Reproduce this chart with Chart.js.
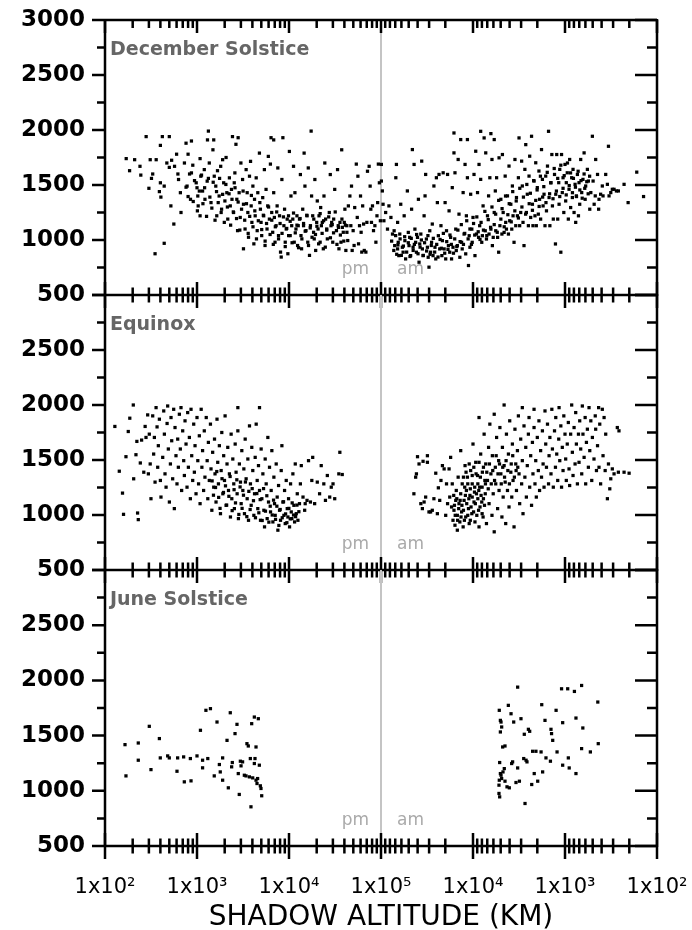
<!DOCTYPE html>
<html>
<head>
<meta charset="utf-8">
<script src="https://cdn.jsdelivr.net/npm/chart.js@4.4.1/dist/chart.umd.min.js"></script>
<style>
  html, body { margin: 0; padding: 0; background: #fff; }
  #wrap { position: relative; width: 692px; height: 930px; }
  #wrap canvas { position: absolute; left: 0; top: 0; }
</style>
</head>
<body>
<div id="wrap">
  <canvas id="p1" width="692" height="930"></canvas>
  <canvas id="p2" width="692" height="930"></canvas>
  <canvas id="p3" width="692" height="930"></canvas>
</div>
<script>
// shadow altitude (km) vs value, pm side (left half) and am side (right half)
const xTickLabels = ['1x10\u00b2', '1x10\u00b3', '1x10\u2074', '1x10\u2075', '1x10\u2074', '1x10\u00b3', '1x10\u00b2'];
const panelTitles = ['December Solstice', 'Equinox', 'June Solstice'];
const yMajor = [500, 1000, 1500, 2000, 2500, 3000];
const yMinor = [750, 1250, 1750, 2250, 2750];

const decPm = [
  [170,1740],[185,1630],[210,1730],[240,1670],[245,1590],[280,1940],[310,1730],[360,1730],[320,1560],[300,1470],
  [330,1600],[350,875],[440,970],[400,1860],[420,1940],[500,1940],[400,1520],[405,1390],[390,1440],[440,1490],
  [470,1700],[500,1660],[520,1310],[560,1145],[530,1725],[600,1780],[570,1670],[620,1600],[630,1550],[660,1430],
  [670,1250],[730,1700],[760,1880],[800,1780],[870,1900],[780,1490],[830,1600],[850,1370],[900,1680],[940,1540],
  [1000,1475],[1020,1400],[1030,1310],[1080,1740],[1080,1220],[1100,1580],[1150,1445],[1200,1640],[1220,1370],[1290,1535],
  [1300,1910],[1330,1990],[1360,1700],[1420,1340],[1490,1820],[1520,1910],[1540,1580],[1600,1490],[1640,1220],[1670,1630],
  [1740,1400],[1810,1670],[1850,1280],[1900,1730],[1950,1520],[2010,1355],[2070,1750],[2110,1430],[2160,1190],[2250,1565],
  [2300,1310],[2370,1460],[2430,1940],[2500,1250],[2540,1520],[2580,1610],[2650,1870],[2710,1370],[2760,1085],[2800,1930],
  [2870,1430],[2950,1205],[3000,1700],[3130,1550],[3200,1325],[3200,920],[3330,1100],[3420,1640],[3510,1430],[3570,1250],
  [3630,1025],[3720,1580],[3820,1715],[3880,1310],[3950,1160],[4050,1490],[4150,965],[4220,1370],[4290,1220],[4400,1565],
  [4510,1085],[4580,1430],[4770,1790],[4890,1280],[4970,1160],[5050,1040],[5180,1385],[5310,1220],[5400,1640],[5490,950],
  [5630,1460],[5770,1100],[5870,1310],[5960,1760],[6120,1190],[6280,1690],[6380,1930],[6490,1250],[6650,1070],[6820,1910],
  [6820,1430],[6930,1205],[7050,980],[7240,1130],[7430,1310],[7560,1655],[7690,1040],[7890,1220],[8090,890],[8230,845],
  [8370,1550],[8580,1930],[8800,1130],[8950,1280],[9100,980],[9330,1100],[9560,1190],[9720,875],[9880,1220],[10100,1805],
  [10300,1040],[10500,1400],[10700,1130],[11000,1190],[11200,1670],[11400,980],[11600,1430],[11900,1100],[12200,1220],[12400,950],
  [12600,1130],[13000,1190],[13300,1595],[13500,1040],[13700,920],[14100,1280],[14400,1130],[14600,1790],[14900,1490],[15300,1085],
  [15700,1220],[16000,980],[16200,1655],[16700,860],[17100,1130],[17400,1990],[17600,1400],[18100,1220],[18500,1070],[18800,1010],
  [19100,1550],[19500,905],[20000,1160],[20300,1355],[20700,1100],[21200,1220],[21800,980],[22100,1295],[22500,1130],[23000,1160],
  [23600,920],[24000,1400],[24500,1700],[25000,1190],[25700,1100],[26100,1010],[27400,1250],[28100,1595],[28600,1130],[29100,1160],
  [29900,980],[30600,1190],[31400,1460],[32800,1085],[33700,1640],[34300,1130],[34900,920],[35800,1160],[36700,980],[37400,1820],
  [38000,1115],[38900,1070],[39900,1160],[40500,1280],[41500,905],[42500,1130],[43500,995],[44200,1310],[45900,1400],[47000,1130],
  [47800,1490],[48600,905],[49800,1085],[51000,950],[51800,1295],[53900,1690],[55200,1205],[56100,1580],[57000,965],[58400,1130],
  [59900,1400],[60800,1070],[61800,890],[63200,1310],[64700,1145],[65800,905],[68500,890],[70200,1160],[71300,1625],[74300,1670],
  [76200,1490],[77500,1280],[78800,1160],[80800,1310],[82900,1085],[85800,1130],[88000,980],[90400,1220],[92000,1340],[93600,1690],
  [96000,1520],[98400,1175],
  [760,1480],[800,1395],[870,1610],[910,1350],[980,1520],[1010,1265],[1060,1445],[1120,1590],[1160,1330],[1210,1475],
  [1270,1215],[1330,1560],[1380,1390],[1450,1290],[1500,1525],[1570,1180],[1630,1440],[1700,1340],[1760,1560],[1830,1250],
  [1900,1415],[1980,1160],[2060,1505],[2140,1300],[2230,1420],[2320,1135],[2400,1370],[2480,1255],[2590,1475],[2690,1195],
  [2800,1345],[2920,1090],[3050,1280],[3170,1445],[3300,1180],[3450,1330],[3600,1060],[3740,1215],[3900,1405],[4060,1120],
  [4250,1265],[4430,1010],[4640,1175],[4820,1340],[5050,1095],[5260,1225],[5500,990],[5700,1150],[6000,1300],[6230,1050],
  [6500,1180],[6750,960],[7100,1120],[7350,1255],[7700,1010],[8000,1150],[8400,1060],[8700,1210],[9100,940],[9450,1105],
  [9900,1040],[10300,1170],[10800,975],[11200,1245],[11700,1065],[12200,1135],[12700,930],[13200,1195],[13800,1010],[14400,1150],
  [15000,1080],[15600,1225],[16300,950],[17000,1110],[17800,1025],[18600,1190],[19400,1050],[20100,1125],[21000,965],[21800,1240],
  [22900,1060],[23800,1175],[24800,935],[25700,1090],[27000,1210],[28200,1020],[29500,1140],[30500,1065],[31800,1255],[33200,960],
  [34500,1115],[36200,1045],[37600,1190],[39400,990],[41000,1135],[42600,1070]
];

const decAm = [
  [99000,1687],[99000,1536],[96700,1446],[95000,1325],[93000,1175],[89000,1250],[85000,1099],[82000,1310],[78000,1205],[75000,1054],
  [72000,1084],[69000,1566],[68000,1687],[66000,1160],[71000,949],[66000,919],[65000,979],[64000,858],[62500,1054],[61000,1325],
  [58600,934],[57500,889],[56000,1220],[55000,994],[54000,828],[51700,1446],[50500,1069],[49600,949],[48800,1024],[47600,858],
  [46500,1280],[45600,1822],[44800,934],[43700,1687],[42800,1099],[42000,979],[41200,889],[40100,1024],[39200,1370],[38600,798],
  [37900,964],[36900,1054],[36100,1717],[35500,919],[34900,858],[34000,1220],[33200,1401],[32700,1596],[32100,1009],[31300,934],
  [30700,843],[30100,753],[29500,1084],[28900,889],[28200,979],[27700,1145],[27200,858],[26600,1491],[25900,934],[25400,828],
  [25000,1566],[24400,1340],[23800,1039],[23400,1596],[23000,919],[22300,1130],[21800,858],[21500,994],[21100,1611],[20600,919],
  [20100,1340],[19800,828],[19400,1084],[18900,1596],[18500,949],[18200,1265],[17900,889],[17500,1024],[17100,828],[16800,1476],
  [16500,934],[16100,1973],[16100,1792],[15700,1611],[15400,1099],[15200,904],[14800,949],[14500,1732],[14200,1235],[13900,843],
  [13600,1913],[13300,979],[13100,919],[12800,1431],[12500,1054],[12200,1687],[12000,874],[11800,1220],[11500,1913],[11500,1566],
  [11200,768],[11000,1039],[10800,934],[10600,1416],[10300,1099],[10200,979],[10000,1205],[9750,1596],[9520,858],[9340,1807],
  [9170,1054],[8930,1431],[8700,1024],[8600,1687],[8460,1130],[8250,1988],[8250,1551],[8030,979],[7910,1039],[7770,1310],
  [7570,1928],[7360,1084],[7270,1792],[7140,1009],[6960,1220],[6770,1401],[6690,1054],[6560,1566],[6390,1967],[6390,1099],
  [6220,1732],[6160,949],[6030,1024],[5880,1913],[5880,1250],[5720,1446],[5660,1084],[5540,1566],[5400,1024],[5260,889],
  [5210,1747],[5100,1130],[4980,1370],[4850,1054],[4790,1777],[4700,1250],[4590,1069],[4470,1581],[4410,1160],[4330,1099],
  [4220,1401],[4120,1054],[4060,1672],[3990,1175],[3880,1325],[3790,1099],[3730,1491],[3670,1220],[3580,979],[3500,1732],
  [3430,1130],[3370,1386],[3290,1220],[3210,1566],[3160,1928],[3110,1130],[3030,1250],[2960,1717],[2910,1491],[2860,1160],
  [2790,949],[2730,1642],[2670,1867],[2630,1250],[2570,1416],[2500,1130],[2460,1581],[2420,1762],[2360,1205],[2310,1943],
  [2260,1325],[2230,1130],[2170,1536],[2120,1220],[2080,1702],[2050,1130],[2000,1476],[1950,1235],[1920,1627],[1890,1370],
  [1840,1190],[1800,1822],[1760,1551],[1730,1310],[1690,1416],[1650,1130],[1620,1581],[1590,1265],[1550,1672],[1510,1988],
  [1490,1386],[1460,1130],[1420,1521],[1390,1777],[1370,1310],[1340,1190],[1300,1596],[1270,964],[1260,1416],[1230,1777],
  [1200,1190],[1170,1521],[1160,1325],[1140,1642],[1110,889],[1090,1777],[1070,1431],[1050,1566],[1030,1250],[1000,1687],
  [983,1355],[968,1521],[945,1611],[920,1190],[904,1461],[890,1732],[868,1295],[846,1566],[832,1386],[818,1642],
  [797,1250],[777,1506],[765,1160],[752,1401],[733,1596],[714,1220],[704,1521],[692,1325],[675,1732],[658,1431],
  [638,1551],[620,1792],[604,1370],[596,1491],[571,1642],[557,1536],[538,1280],[524,1431],[504,1943],[495,1536],
  [482,1325],[469,1401],[464,1732],[443,1596],[431,1280],[427,1370],[410,1416],[393,1491],[386,1401],[361,1596],
  [346,1506],[337,1852],[332,1401],[318,1431],[306,1461],[293,1461],[276,1446],[263,1446],[228,1506],[206,1340],
  [166,1617],[140,1395],
  [76600,990],[72600,905],[69300,1040],[67500,870],[65500,955],[62000,1010],[60100,860],[57100,945],[55300,1030],[52600,890],
  [50500,975],[48400,850],[46900,1015],[44700,905],[43400,960],[41000,1050],[39600,875],[37600,935],[36400,1000],[34700,860],
  [33600,975],[31900,900],[30900,1040],[29300,870],[28400,950],[27000,1015],[26100,890],[24800,960],[24000,845],[22800,1005],
  [22100,925],[21000,1060],[20300,880],[19300,985],[18700,915],[17800,1045],[17200,960],[16300,880],[15800,1010],[15000,940],
  [14600,1090],[13800,985],[13400,1140],[12700,960],[12300,1060],[11700,1175],[11300,1010],[10800,1100],[10400,960],[9860,1150],
  [9580,1045],[9090,1210],[8780,1075],[8390,1005],[8170,1160],[7700,1090],[7430,1260],[7080,1040],[6830,1185],[6440,1115],
  [6220,1300],[5880,1140],[5670,1235],[5450,1070],[5260,1360],[4980,1190],[4830,1285],[4580,1120],[4430,1400],[4180,1230],
  [4040,1330],[3840,1165],[3700,1440],[3510,1265],[3390,1355],[3210,1200],[3100,1470],[2940,1300],[2830,1390],[2680,1235],
  [2600,1505],[2450,1330],[2380,1425],[2260,1270],[2190,1540],[2080,1360],[2010,1455],[1910,1305],[1850,1580],[1750,1390],
  [1700,1485],[1610,1340],[1560,1615],[1470,1420],[1430,1520],[1350,1375],[1310,1650],[1240,1445],[1200,1560],[1140,1395],
  [1110,1680],[1050,1470],[1020,1585],[970,1410],[940,1700],[900,1495],[870,1610],[830,1430],[810,1560],[770,1480],
  [750,1395],[720,1625],[690,1455],[670,1540],[650,1380],[620,1600],[610,1470],[580,1530],[560,1420],[540,1580]
];

const eqPm = [
  [128,1805],[143,1398],[155,1199],[159,1006],[169,1530],[179,1759],[186,1880],[203,2000],[205,1329],[217,1548],
  [222,1669],[226,1018],[230,958],[242,1473],[250,1681],[264,1389],[273,1805],[279,1705],[291,1910],[296,1374],
  [303,1735],[310,1464],[316,1148],[330,1901],[338,1554],[344,1705],[350,1299],[359,1976],[368,1801],[374,1434],
  [380,1630],[390,1871],[400,1314],[406,1163],[424,1524],[435,1946],[442,1735],[449,1374],[461,1253],[473,1832],
  [480,1991],[488,1600],[501,1118],[514,1464],[522,1886],[531,1675],[544,1329],[558,1961],[567,1058],[577,1795],
  [591,1539],[606,1283],[617,1690],[627,1434],[643,1916],[659,1600],[670,1976],[681,1223],[699,1765],[717,1494],
  [729,1359],[741,1856],[760,1645],[779,1253],[792,1931],[806,1434],[826,1705],[847,1148],[861,1961],[876,1539],
  [898,1314],[921,1826],[936,1389],[952,1630],[976,1193],[1000,1886],[1020,1494],[1040,1283],[1060,1720],[1080,1103],
  [1110,1961],[1130,1434],[1150,1585],[1180,1223],[1200,1765],[1220,1344],[1260,1886],[1290,1494],[1310,1148],[1330,1660],
  [1360,1314],[1400,1826],[1420,1419],[1450,1043],[1480,1570],[1520,1253],[1550,1690],[1570,1374],[1610,1118],[1650,1871],
  [1680,1479],[1710,1283],[1750,1630],[1800,1012],[1830,1404],[1860,1750],[1910,1193],[1950,1539],[1990,1314],[2020,1901],
  [2070,1088],[2120,1464],[2160,1615],[2200,1223],[2250,1374],[2310,982],[2350,1735],[2390,1148],[2450,1509],[2510,1283],
  [2550,1058],[2600,1645],[2660,1389],[2730,1193],[2780,1976],[2780,1765],[2820,967],[2890,1464],[2970,1299],[3020,1103],
  [3070,1585],[3150,1223],[3230,1419],[3280,1012],[3340,1690],[3420,1329],[3510,1148],[3570,1509],[3630,952],[3720,1810],
  [3810,1283],[3880,1088],[3940,1615],[4040,1404],[4150,997],[4220,1193],[4290,1524],[4400,1826],[4510,1314],[4580,1058],
  [4660,1449],[4780,1976],[4780,1223],[4900,952],[4980,1600],[5070,1148],[5200,1374],[5330,1043],[5420,892],[5510,1509],
  [5650,1283],[5790,967],[5890,1705],[5990,1118],[6140,1434],[6300,1028],[6400,1223],[6510,1585],[6680,937],[6850,1344],
  [6960,1103],[7080,997],[7260,1464],[7440,1163],[7570,862],[7700,1268],[7890,1043],[8090,952],[8230,1404],[8370,1630],
  [8580,1118],[8800,997],[8950,1223],[9100,922],[9330,1314],[9570,1058],[9730,982],[9890,1148],[10140,892],[10400,1283],
  [10580,1028],[10750,967],[11020,1374],[11300,1088],[11500,937],[11700,1464],[12000,1012],[12300,1193],[12500,952],[13000,1103],
  [13300,1283],[13600,1449],[14200,1163],[14800,1043],[15000,1103],[15700,1133],[16300,1494],[17100,1118],[17700,1314],[18100,1524],
  [19000,1103],[20300,1299],[21500,1193],[22400,1449],[23900,1283],[24900,1133],[26100,1359],[27700,1163],[28800,1253],[30100,1283],
  [31400,1148],[34800,1374],[35700,1570],[37900,1368],
  [1460,1310],[1510,1180],[1590,1250],[1640,1395],[1720,1160],[1780,1060],[1870,1330],[1940,1205],[2040,1265],[2100,1090],
  [2220,1170],[2290,1350],[2410,1040],[2530,1230],[2620,1110],[2710,1320],[2850,1005],[2940,1255],[3090,1060],[3200,1180],
  [3360,1300],[3480,985],[3660,1215],[3780,1050],[3980,1240],[4110,1130],[4320,975],[4470,1195],[4700,1020],[4860,1140],
  [5110,950],[5290,1240],[5550,1035],[5740,1175],[6040,935],[6250,1080],[6570,1000],[6790,1135],[7140,960],[7380,1080],
  [7760,905],[8020,1050],[8440,975],[8720,1120],[9180,1010],[9480,930],[9970,1060],[10310,965],[10830,1110],[11200,1000],
  [11800,985],[12200,1090],[12800,1030]
];

const eqAm = [
  [43900,1193],[42000,1344],[41200,1374],[40100,1530],[38600,1464],[36900,1103],[35500,1058],[34900,1488],[34000,1118],[32700,1163],
  [31300,1539],[31300,1479],[30100,1028],[28900,1028],[27700,1043],[26600,1148],[25400,1380],[24400,1012],[23800,1247],[23000,1133],
  [22300,1314],[21500,1449],[20600,1419],[19800,997],[19400,1283],[18900,1103],[18200,1419],[17900,1163],[17500,1524],[17100,1073],
  [16800,1283],[16500,952],[16100,1043],[15700,907],[15400,1133],[15200,1223],[14800,862],[14800,997],[14500,1344],[14200,1103],
  [13900,937],[13600,1585],[13600,1193],[13300,1028],[13100,1283],[12800,892],[12500,1133],[12200,1449],[12000,982],[11800,1223],
  [11500,1344],[11200,1058],[11000,922],[10800,1178],[10600,1404],[10300,1012],[10200,1283],[10000,1645],[9750,1118],[9520,937],
  [9340,1479],[9170,1193],[8930,1359],[8700,1043],[8600,1886],[8600,892],[8460,1253],[8250,1554],[8030,1118],[7910,1389],
  [7770,982],[7570,1735],[7360,1193],[7270,1464],[7140,922],[6960,1314],[6770,1615],[6690,1103],[6560,1826],[6390,1374],
  [6220,997],[6160,1539],[6030,1193],[5880,847],[5880,1916],[5720,1434],[5660,1283],[5540,1705],[5400,1058],[5260,1494],
  [5210,1223],[5100,1795],[4980,1374],[4850,982],[4790,1615],[4700,1163],[4590,2000],[4590,1449],[4470,1299],[4410,922],
  [4330,1735],[4220,1223],[4120,1554],[4060,1073],[3990,1856],[3880,1389],[3790,1163],[3730,1645],[3670,1314],[3580,892],
  [3500,1780],[3430,1464],[3370,1223],[3290,1585],[3210,1901],[3160,1374],[3110,1103],[3030,1690],[2960,1283],[2910,1976],
  [2910,1494],[2860,1012],[2790,1810],[2730,1344],[2670,1615],[2630,1163],[2570,1449],[2500,1735],[2460,1886],[2420,1253],
  [2360,1539],[2310,1088],[2260,1660],[2230,1374],[2170,1961],[2170,1795],[2120,1283],[2080,1494],[2050,1163],[2000,1705],
  [1950,1404],[1920,1856],[1890,1223],[1840,1585],[1800,1344],[1760,1765],[1730,1464],[1690,1253],[1650,1946],[1620,1645],
  [1590,1434],[1550,1826],[1510,1283],[1490,1539],[1460,1705],[1420,1374],[1390,1961],[1370,1600],[1340,1253],[1300,1765],
  [1270,1434],[1260,1886],[1230,1554],[1200,1314],[1170,1690],[1160,1976],[1140,1494],[1110,1810],[1090,1253],[1070,1615],
  [1050,1404],[1030,1901],[1000,1735],[983,1509],[968,1314],[945,1645],[920,1841],[904,1419],[890,1268],[868,1735],
  [846,2000],[832,1570],[818,1359],[797,1795],[777,1464],[765,1931],[752,1645],[733,1283],[714,1735],[704,1479],
  [692,1856],[675,1600],[658,1374],[648,1991],[638,1735],[620,1524],[604,1886],[596,1283],[585,1660],[571,1780],
  [557,1434],[548,1976],[538,1585],[524,1856],[512,1314],[504,1705],[484,1509],[469,1901],[464,1780],[455,1404],
  [443,1630],[431,1976],[427,1434],[419,1826],[410,1283],[393,1961],[386,1539],[376,1886],[366,1404],[361,1735],
  [346,1148],[337,1464],[326,1238],[318,1329],[306,1419],[293,1374],[270,1795],[263,1389],[259,1765],[228,1389],
  [201,1380],
  [16200,1178],[15900,1088],[15600,997],[15000,1148],[14700,952],[14300,1058],[13800,1133],[13500,982],[13200,1088],[12700,1043],
  [12400,952],[12100,1178],[11700,1103],[11400,997],[11100,1148],[10700,952],[10500,1073],[10200,1163],[9860,1028],[9640,1208],
  [9430,1103],[9090,997],[8860,1148],[8650,1223],[8390,1073],[8170,1178],[7960,1012],[7700,1148],[7500,1088],[7320,1283],
  [12700,1344],[12300,1253],[11900,1389],[11400,1283],[11000,1464],[10700,1238],[10200,1359],[9800,1434],[9580,1253],[9260,1374],
  [8860,1283],[8600,1479],[8320,1344],[7960,1253],[7700,1434],[7430,1314],[7080,1389],[6830,1238],[6630,1464],[6330,1283],
  [6100,1404],[5830,1314],[5600,1539],[5350,1374],[5150,1464],[4930,1283],[4750,1434],[4540,1344],[4370,1494],[4180,1404],
  [4020,1283],[3840,1464],[3700,1539],[3550,1344],[3400,1404],[3260,1434]
];

const junPm = [
  [165,1418],[169,1135],[230,1433],[230,1277],[303,1584],[316,1192],[390,1473],[399,1298],[480,1316],[500,1298],
  [606,1177],[616,1298],[716,1307],[728,1081],[847,1292],[861,1090],[1000,1316],[1090,1548],[1150,1277],[1150,1208],
  [1250,1729],[1310,1292],[1400,1744],[1540,1135],[1650,1623],[1750,1238],[1790,1171],[1900,1096],[1900,1298],[2120,1457],
  [2190,1027],[2300,1707],[2380,1217],[2420,1256],[2590,1518],[2720,1602],[2810,1156],[2880,967],[2960,1268],[3010,1226],
  [3130,1262],[3270,1141],[3410,1135],[3490,1427],[3610,1406],[3710,1126],[3800,1292],[3860,855],[3930,1608],[4030,1117],
  [4200,1668],[4270,1292],[4380,1096],[4380,1397],[4490,1066],[4560,1111],[4640,1653],[4760,1232],[4880,1045],[4960,1021],
  [5050,955],[4200,1247]
];

const junAm = [
  [5180,1729],[5040,1638],[4960,1623],[5040,1533],[4880,1578],[5130,1256],[5040,1156],[5180,1096],[5220,1051],[5220,976],
  [5130,945],[4960,1141],[4880,1111],[4720,1171],[4570,1201],[4760,1397],[4490,1406],[4490,1087],[4270,1036],[4130,1774],
  [4030,1027],[3860,1698],[3800,1247],[3710,1262],[3610,1623],[3410,1075],[3270,1939],[3270,1207],[3130,1087],[3010,1653],
  [2810,1292],[2770,1512],[2720,885],[2650,1277],[2590,1262],[2500,1557],[2420,1539],[2250,1358],[2300,1057],[2160,1156],
  [2070,1358],[1980,1087],[1820,1352],[1790,1780],[1750,1171],[1650,1638],[1610,1298],[1440,1268],[1420,1557],[1400,1518],
  [1360,1457],[1250,1729],[1220,1352],[1090,1924],[1060,1617],[1060,1232],[935,1924],[920,1298],[900,1207],[790,1900],
  [760,1659],[760,1156],[660,1954],[640,1569],[660,1382],[530,1352],[440,1804],[435,1427]
];

// x position in decades: pm side runs 1e2 -> 1e5, am side mirrors 1e5 -> 1e2
const pmX = a => Math.log10(a) - 2;
const amX = a => 8 - Math.log10(a);
const toXY = (list, fx) => list.map(([alt, v]) => ({ x: fx(alt), y: v }));

const decades = [0, 1, 2, 3, 4, 5, 6];
const minorTicks = [];
for (let k = 0; k < 3; k++) for (let m = 2; m <= 9; m++) minorTicks.push(k + Math.log10(m));
for (let k = 4; k <= 6; k++) for (let m = 2; m <= 9; m++) minorTicks.push(k - Math.log10(m));

const FONT = 'DejaVu Sans';
const CLEAR = 'rgba(0,0,0,0)';

const framePlugin = {
  id: 'frame',
  beforeDatasetsDraw(chart) {
    const { ctx, chartArea: a, scales: { x } } = chart;
    const cx = x.getPixelForValue(3);
    ctx.save();
    ctx.strokeStyle = '#c4c4c4';
    ctx.lineWidth = 2;
    ctx.beginPath(); ctx.moveTo(cx, a.top); ctx.lineTo(cx, a.bottom); ctx.stroke();
    ctx.restore();
  },
  afterDraw(chart, args, o) {
    const { ctx, chartArea: a, scales: { x, y } } = chart;
    ctx.save();
    ctx.strokeStyle = '#000';
    ctx.lineWidth = 2.5;
    ctx.lineCap = 'butt';
    ctx.beginPath();
    ctx.moveTo(a.left, a.top - 1); ctx.lineTo(a.left, a.bottom + 1);
    ctx.moveTo(a.right, a.top - 1); ctx.lineTo(a.right, a.bottom + 1);
    ctx.moveTo(a.left, a.bottom); ctx.lineTo(a.right, a.bottom);
    if (o.top) { ctx.moveTo(a.left, a.top); ctx.lineTo(a.right, a.top); }
    ctx.stroke();

    ctx.beginPath();
    for (const v of yMajor) {
      const py = y.getPixelForValue(v);
      ctx.moveTo(a.left - 13, py); ctx.lineTo(a.left, py);
      ctx.moveTo(a.right - 22, py); ctx.lineTo(a.right, py);
    }
    for (const v of yMinor) {
      const py = y.getPixelForValue(v);
      ctx.moveTo(a.left - 8, py); ctx.lineTo(a.left, py);
      ctx.moveTo(a.right - 10, py); ctx.lineTo(a.right, py);
    }
    // x ticks crossing the lower edge, hanging from the top edge
    for (const v of decades) {
      const px = x.getPixelForValue(v);
      ctx.moveTo(px, a.bottom - 13); ctx.lineTo(px, a.bottom + 13);
      if (o.top) { ctx.moveTo(px, a.top); ctx.lineTo(px, a.top + 13); }
    }
    for (const v of minorTicks) {
      const px = x.getPixelForValue(v);
      ctx.moveTo(px, a.bottom - 7.5); ctx.lineTo(px, a.bottom + 7.5);
      if (o.top) { ctx.moveTo(px, a.top); ctx.lineTo(px, a.top + 8); }
    }
    ctx.stroke();

    ctx.textBaseline = 'middle';
    ctx.fillStyle = '#666';
    ctx.font = 'bold 19px "' + FONT + '"';
    ctx.textAlign = 'left';
    ctx.fillText(o.title, a.left + 5, a.top + 30);

    const cx = x.getPixelForValue(3);
    ctx.fillStyle = '#aaa';
    ctx.font = '17px "' + FONT + '"';
    ctx.textAlign = 'right';
    ctx.fillText('pm', cx - 12, a.bottom - 25);
    ctx.textAlign = 'left';
    ctx.fillText('am', cx + 16, a.bottom - 25);
    ctx.restore();
  }
};

function makePanel(id, idx, pm, am, top, bottom) {
  const last = idx === 2;
  return new Chart(document.getElementById(id), {
    type: 'scatter',
    data: {
      datasets: [
        { data: toXY(pm, pmX) },
        { data: toXY(am, amX) }
      ]
    },
    options: {
      responsive: false,
      animation: false,
      events: [],
      layout: { padding: { left: 0, right: 35, top: top, bottom: last ? 0 : 930 - bottom } },
      elements: { point: { pointStyle: 'rect', radius: 2.3, borderWidth: 0, backgroundColor: '#000' } },
      plugins: {
        legend: { display: false },
        tooltip: { enabled: false },
        frame: { title: panelTitles[idx], top: idx === 0 }
      },
      scales: {
        x: {
          type: 'linear', min: 0, max: 6, display: last,
          afterBuildTicks: s => { s.ticks = decades.map(v => ({ value: v })); },
          afterFit: s => { if (last) s.height = 930 - bottom; },
          grid: { color: CLEAR, drawOnChartArea: false, drawTicks: true, tickLength: 27 },
          border: { display: false },
          ticks: {
            autoSkip: false, maxRotation: 0, padding: 2, color: '#000',
            font: { family: FONT, size: 21 },
            callback: (v, i) => xTickLabels[i]
          },
          title: {
            display: true, text: 'SHADOW ALTITUDE (KM)', color: '#000',
            font: { family: FONT, size: 28, lineHeight: 0.75 },
            padding: { top: 0, bottom: 2 }
          }
        },
        y: {
          type: 'linear', min: 500, max: 3000,
          afterFit: s => { s.width = 105; },
          grid: { color: CLEAR, drawOnChartArea: false, drawTicks: true, tickLength: 20 },
          border: { display: false },
          ticks: {
            stepSize: 500, padding: 0, color: '#000',
            font: { family: FONT, size: 23, weight: 'bold' },
            callback: v => (idx > 0 && v === 3000) ? '' : String(v)
          }
        }
      }
    },
    plugins: [framePlugin]
  });
}

makePanel('p1', 0, decPm, decAm, 20, 295);
makePanel('p2', 1, eqPm, eqAm, 295, 570);
makePanel('p3', 2, junPm, junAm, 570, 846);
</script>
</body>
</html>
